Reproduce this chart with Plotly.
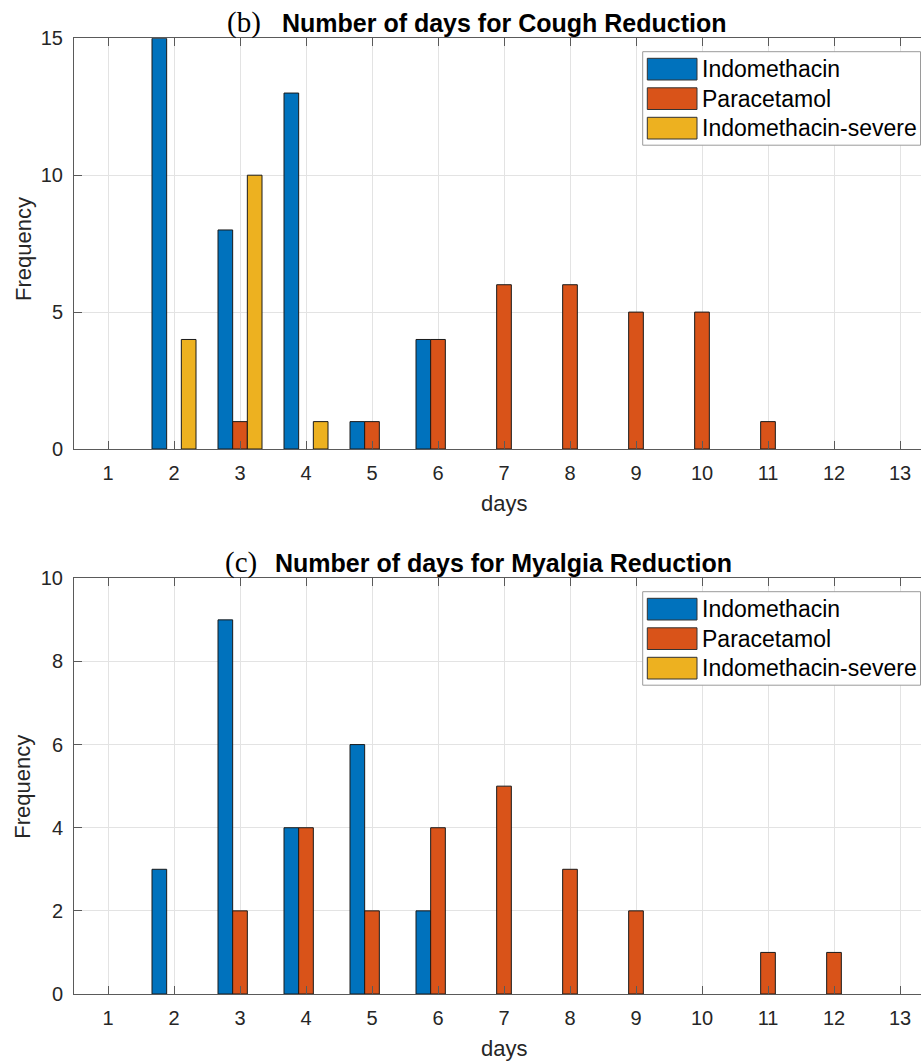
import plotly.graph_objects as go

W, H = 921, 1064

days = list(range(1, 14))
tick_labels = [str(d) for d in days]
series_names = ["Indomethacin", "Paracetamol", "Indomethacin-severe"]
series_colors = ["#0072BD", "#D95319", "#EDB120"]

# Cough reduction (b)
cough_indo = [None, 15, 8, 13, 1, 4, None, None, None, None, None, None, None]
cough_para = [None, None, 1, None, 1, 4, 6, 6, 5, 5, 1, None, None]
cough_severe = [None, 4, 10, 1, None, None, None, None, None, None, None, None, None]

# Myalgia reduction (c)
myal_indo = [None, 3, 9, 4, 6, 2, None, None, None, None, None, None, None]
myal_para = [None, None, 2, 4, 2, 4, 5, 3, 2, None, 1, 1, None]
myal_severe = [None] * 13

cough_title = "Number of days for Cough Reduction"
myal_title = "Number of days for Myalgia Reduction"

FONT = "Liberation Sans, Arial, sans-serif"
SERIF = "Liberation Serif, Times New Roman, serif"
TXT = "#262626"
AX = "#5a5a5a"
GRID = "#e3e3e3"


def px_x(p):
    return p / W


def px_y(p):
    return 1 - p / H


# axes geometry (pixels)
ax_left = 74
tick_sp = 66.0
tick1_px = 108
x0 = 1 - (tick1_px - ax_left) / tick_sp
x1 = x0 + (W - ax_left) / tick_sp
axes = [
    dict(top=38.3, bot=449.0, ymax=15, dtick=5, label="(b)", label_x=225,
         ylab_c=249.0, title=cough_title, data=[cough_indo, cough_para, cough_severe]),
    dict(top=578.3, bot=994.0, ymax=10, dtick=2, label="(c)", label_x=223,
         ylab_c=786.7, title=myal_title, data=[myal_indo, myal_para, myal_severe]),
]

fig = go.Figure()
bar_w = 2 / 9
offsets = [-1 / 3, -1 / 9, 1 / 9]
annotations = []
shapes = []

for i, a in enumerate(axes):
    xa = "x" if i == 0 else "x2"
    ya = "y" if i == 0 else "y2"
    for s, vals in enumerate(a["data"]):
        fig.add_trace(go.Bar(
            x=days, y=vals, name=series_names[s], xaxis=xa, yaxis=ya,
            width=bar_w, offset=offsets[s],
            marker=dict(color=series_colors[s], line=dict(color="#1a1a1a", width=1)),
            showlegend=False,
        ))
    axis_kw = dict(
        domain=[px_x(ax_left), 1.0], range=[x0, x1], tickmode="array",
        tickvals=days, ticktext=tick_labels, ticks="inside", ticklen=8,
        tickcolor=AX, showline=True, linecolor=AX, linewidth=1, mirror="ticks",
        showgrid=True, gridcolor=GRID, gridwidth=1, zeroline=False,
        tickfont=dict(family=FONT, size=20, color=TXT), ticklabelstandoff=6,
        anchor=ya, automargin=False,
    )
    yaxis_kw = dict(
        domain=[px_y(a["bot"]), px_y(a["top"])], range=[0, a["ymax"]],
        dtick=a["dtick"], tick0=0, ticks="inside", ticklen=8, tickcolor=AX,
        showline=True, linecolor=AX, linewidth=1, mirror=False,
        showgrid=True, gridcolor=GRID, gridwidth=1, zeroline=False,
        tickfont=dict(family=FONT, size=20, color=TXT), ticklabelstandoff=6,
        anchor=xa, automargin=False,
    )
    if i == 0:
        fig.update_layout(xaxis=axis_kw, yaxis=yaxis_kw)
    else:
        fig.update_layout(xaxis2=axis_kw, yaxis2=yaxis_kw)

    # titles
    annotations.append(dict(
        x=px_x(503.5), y=px_y(a["top"] - 15.0), xref="paper", yref="paper",
        xanchor="center", yanchor="middle", showarrow=False,
        text="<b>" + a["title"] + "</b>",
        font=dict(family=FONT, size=25, color="#000000"),
    ))
    annotations.append(dict(
        x=px_x(a["label_x"]), y=px_y(a["top"] - 16), xref="paper", yref="paper",
        xanchor="left", yanchor="middle", showarrow=False,
        text=a["label"], font=dict(family=SERIF, size=29, color="#000000"),
    ))
    # axis labels
    annotations.append(dict(
        x=px_x(503.7), y=px_y(a["bot"] + 54), xref="paper", yref="paper",
        xanchor="center", yanchor="middle", showarrow=False,
        text="days", font=dict(family=FONT, size=22, color=TXT),
    ))
    annotations.append(dict(
        x=px_x(23), y=px_y(a["ylab_c"]), xref="paper", yref="paper",
        xanchor="center", yanchor="middle", showarrow=False, textangle=-90,
        text="Frequency", font=dict(family=FONT, size=22, color=TXT),
    ))
    # legend box
    lt = a["top"] + 13.4
    shapes.append(dict(type="rect", xref="paper", yref="paper",
                       x0=px_x(642.7), x1=px_x(920.5), y0=px_y(lt), y1=px_y(lt + 93.5),
                       line=dict(color="#9a9a9a", width=1), fillcolor="white", layer="above"))
    for s in range(3):
        r0 = lt + 6.6 + s * 29.5
        shapes.append(dict(type="rect", xref="paper", yref="paper",
                           x0=px_x(647.3), x1=px_x(697), y0=px_y(r0), y1=px_y(r0 + 21.7),
                           line=dict(color="#333333", width=1), fillcolor=series_colors[s],
                           layer="above"))
        annotations.append(dict(
            x=px_x(700), y=px_y(r0 + 11), xref="paper", yref="paper",
            xanchor="left", yanchor="middle", showarrow=False,
            text=series_names[s], font=dict(family=FONT, size=23, color="#000000"),
        ))

fig.update_layout(
    width=W, height=H, margin=dict(l=0, r=0, t=0, b=0, autoexpand=False),
    paper_bgcolor="white", plot_bgcolor="white",
    barmode="overlay", showlegend=False,
    annotations=annotations, shapes=shapes,
)

fig.write_html(
    "out.html",
    config={"displayModeBar": False},
    post_script="document.body.style.margin='0';document.body.style.overflow='hidden';",
)
